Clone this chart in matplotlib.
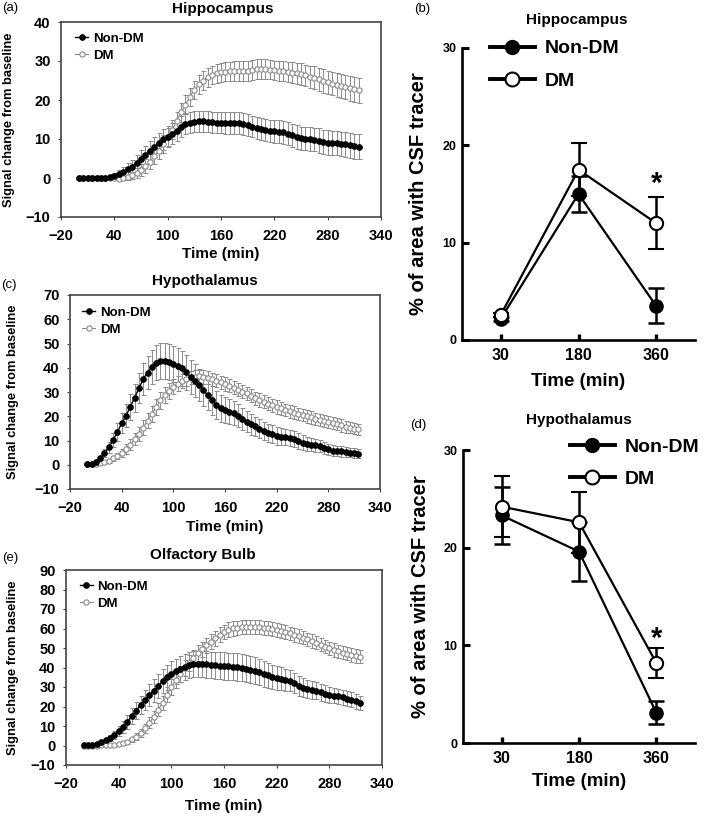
import numpy as np
import matplotlib
matplotlib.use("Agg")
import matplotlib.pyplot as plt
from matplotlib.lines import Line2D

plt.rcParams['font.family'] = ['Liberation Sans', 'DejaVu Sans']
plt.rcParams['font.weight'] = 'bold'
plt.rcParams['axes.labelweight'] = 'bold'

# time course panels (a), (c), (e): one point every 5 min
minutes = np.arange(0, 320, 5)
xticks_time = [-20, 40, 100, 160, 220, 280, 340]

hip_nondm = [0.0, 0.0, 0.0, 0.0, 0.0, 0.0, 0.0,
             0.3, 0.6, 1.0, 1.6, 2.2, 2.9, 3.9, 5.0, 6.0, 7.0,
             8.0, 9.0, 9.9, 10.6, 11.3, 12.1, 13.2, 13.9, 14.2, 14.4,
             14.5, 14.5, 14.4, 14.3, 14.2, 14.2, 14.1, 14.2, 14.2, 14.0,
             13.8, 13.6, 13.2, 12.9, 12.5, 12.3, 12.1, 12.0, 11.9, 11.7,
             11.4, 10.9, 10.5, 10.2, 10.1, 10.0, 9.8, 9.6, 9.3, 9.1,
             9.0, 8.9, 8.8, 8.6, 8.4, 8.2, 8.0]
hip_nondm_err = [0.1, 0.1, 0.1, 0.1, 0.1, 0.1, 0.2,
                 0.4, 0.7, 1.0, 1.3, 1.6, 1.8, 2.0, 2.2, 2.3, 2.4,
                 2.5, 2.6, 2.6, 2.7, 2.7, 2.7, 2.7, 2.7, 2.7, 2.7,
                 2.7, 2.7, 2.7, 2.7, 2.7, 2.7, 2.7, 2.8, 2.8, 2.8,
                 2.8, 2.8, 2.8, 2.8, 2.8, 2.8, 2.9, 2.9, 2.9, 2.9,
                 2.9, 3.0, 3.0, 3.0, 3.0, 3.0, 3.0, 3.1, 3.1, 3.1,
                 3.1, 3.1, 3.1, 3.2, 3.2, 3.2, 3.2]
hip_dm = [0.0, 0.0, 0.0, 0.0, 0.0, 0.0, 0.0,
          0.0, -0.1, -0.2, -0.1, 0.2, 0.7, 1.3, 2.1, 3.0, 4.2,
          5.6, 7.0, 8.6, 10.4, 12.4, 14.6, 16.8, 18.8, 20.8, 22.6,
          24.0, 25.0, 25.8, 26.4, 26.8, 27.1, 27.3, 27.4, 27.4, 27.4,
          27.4, 27.5, 27.7, 27.9, 28.0, 27.9, 27.8, 27.6, 27.5, 27.4,
          27.2, 27.0, 26.8, 26.6, 26.3, 26.0, 25.7, 25.3, 24.9, 24.5,
          24.2, 23.9, 23.6, 23.3, 23.0, 22.8, 22.5]
hip_dm_err = [0.1, 0.1, 0.1, 0.1, 0.1, 0.1, 0.1,
              0.1, 0.2, 0.3, 0.4, 0.6, 0.9, 1.2, 1.5, 1.8, 2.0,
              2.1, 2.2, 2.3, 2.3, 2.4, 2.4, 2.4, 2.4, 2.4, 2.4,
              2.4, 2.4, 2.4, 2.4, 2.4, 2.4, 2.4, 2.4, 2.5, 2.5,
              2.5, 2.5, 2.5, 2.5, 2.5, 2.5, 2.5, 2.5, 2.6, 2.6,
              2.6, 2.7, 2.7, 2.8, 2.8, 2.8, 2.9, 2.9, 3.0, 3.0,
              3.0, 3.1, 3.1, 3.1, 3.2, 3.2, 3.2]

hyp_nondm = [0.3, 0.5, 1.1, 2.8, 4.7, 7.2, 10.1,
             13.5, 17.1, 20.2, 23.8, 27.7, 31.5, 35.3, 38.0, 40.2, 42.1,
             42.8, 42.7, 42.3, 41.7, 40.8, 39.7, 38.1, 36.2, 34.6, 32.8,
             30.7, 28.6, 26.5, 24.5, 23.3, 22.5, 21.9, 21.3, 20.3, 19.0,
             17.8, 16.6, 15.8, 14.9, 13.9, 13.1, 12.5, 11.8, 11.6, 11.4,
             11.1, 10.6, 9.8, 9.1, 8.6, 8.3, 8.1, 7.7, 7.0, 6.3,
             5.8, 5.7, 5.5, 5.3, 5.0, 4.8, 4.6]
hyp_nondm_err = [0.2, 0.3, 0.5, 1.0, 1.6, 2.2, 2.9,
                 3.6, 4.2, 4.8, 5.3, 5.8, 6.2, 6.6, 6.9, 7.1, 7.3,
                 7.4, 7.5, 7.5, 7.4, 7.3, 7.2, 7.1, 7.0, 6.8, 6.6,
                 6.4, 6.2, 6.0, 5.8, 5.6, 5.4, 5.2, 5.0, 4.8, 4.6,
                 4.4, 4.2, 4.0, 3.9, 3.8, 3.7, 3.7, 3.6, 3.5, 3.4,
                 3.3, 3.2, 3.1, 3.0, 2.9, 2.8, 2.7, 2.6, 2.5, 2.4,
                 2.3, 2.2, 2.1, 2.1, 2.0, 2.0, 2.0]
hyp_dm = [0.2, 0.3, 0.4, 0.7, 1.1, 1.7, 2.6,
          3.7, 5.0, 6.5, 8.3, 10.5, 12.8, 15.3, 18.2, 21.0, 23.8,
          26.5, 28.6, 30.5, 32.2, 33.5, 34.6, 35.4, 35.9, 36.3, 36.4,
          36.2, 35.8, 35.3, 34.7, 34.0, 33.3, 32.6, 31.8, 31.0, 30.2,
          29.4, 28.4, 27.5, 26.7, 25.9, 25.2, 24.5, 23.8, 23.2, 22.6,
          22.0, 21.5, 21.0, 20.5, 20.0, 19.5, 19.0, 18.6, 18.1, 17.7,
          17.2, 16.7, 16.2, 15.7, 15.3, 14.9, 14.6]
hyp_dm_err = [0.2, 0.2, 0.3, 0.4, 0.6, 0.8, 1.0,
              1.3, 1.6, 1.9, 2.2, 2.5, 2.8, 3.0, 3.2, 3.3, 3.4,
              3.4, 3.3, 3.2, 3.1, 3.0, 2.9, 2.8, 2.8, 2.7, 2.7,
              2.7, 2.7, 2.7, 2.7, 2.7, 2.7, 2.7, 2.7, 2.7, 2.7,
              2.7, 2.7, 2.7, 2.7, 2.7, 2.7, 2.7, 2.7, 2.7, 2.6,
              2.6, 2.6, 2.6, 2.6, 2.6, 2.6, 2.5, 2.5, 2.5, 2.5,
              2.5, 2.5, 2.5, 2.5, 2.4, 2.4, 2.4]

olf_nondm = [0.2, 0.2, 0.5, 1.0, 1.8, 2.8, 3.9,
             5.4, 7.4, 9.6, 12.2, 15.0, 17.9, 20.8, 23.4, 25.9, 28.2,
             30.5, 32.9, 35.0, 36.8, 38.0, 39.1, 40.3, 41.1, 41.6, 41.8,
             41.8, 41.6, 41.3, 41.1, 40.9, 40.7, 40.6, 40.4, 40.2, 39.9,
             39.4, 38.9, 38.3, 37.6, 36.8, 35.9, 35.1, 34.6, 34.3, 33.8,
             33.2, 32.2, 30.6, 29.6, 29.1, 28.6, 28.0, 27.3, 26.6, 26.0,
             25.6, 25.2, 24.7, 24.1, 23.4, 22.6, 21.9]
olf_nondm_err = [0.2, 0.2, 0.3, 0.5, 0.8, 1.1, 1.5,
                 2.0, 2.5, 3.0, 3.5, 4.0, 4.4, 4.8, 5.2, 5.5, 5.8,
                 6.0, 6.2, 6.4, 6.5, 6.6, 6.7, 6.7, 6.7, 6.7, 6.7,
                 6.8, 6.8, 6.9, 6.9, 7.0, 7.0, 7.0, 7.0, 7.0, 7.0,
                 7.0, 7.0, 6.9, 6.8, 6.6, 6.4, 6.2, 6.0, 5.8, 5.6,
                 5.4, 5.2, 5.0, 4.8, 4.7, 4.6, 4.4, 4.3, 4.2, 4.1,
                 4.0, 4.0, 3.9, 3.9, 3.8, 3.8, 3.7]
olf_dm = [0.0, 0.0, 0.0, 0.0, 0.1, 0.2, 0.3,
          0.5, 0.8, 1.3, 2.0, 3.2, 4.6, 6.5, 8.8, 11.6, 14.8,
          18.3, 22.0, 26.0, 30.0, 33.6, 36.8, 39.6, 42.4, 45.0, 47.3,
          49.3, 51.3, 53.2, 55.0, 56.8, 58.3, 59.4, 60.1, 60.5, 60.8,
          61.0, 61.0, 60.9, 60.7, 60.4, 60.1, 59.7, 59.2, 58.7, 58.1,
          57.5, 56.8, 56.1, 55.3, 54.5, 53.6, 52.7, 51.7, 50.7, 49.8,
          49.0, 48.3, 47.6, 47.0, 46.4, 45.9, 45.5]
olf_dm_err = [0.2, 0.2, 0.2, 0.2, 0.3, 0.3, 0.4,
              0.5, 0.6, 0.8, 1.0, 1.3, 1.6, 2.0, 2.4, 2.8, 3.1,
              3.4, 3.6, 3.8, 4.0, 4.1, 4.2, 4.2, 4.2, 4.1, 4.0,
              4.0, 3.9, 3.9, 3.8, 3.8, 3.7, 3.7, 3.7, 3.6, 3.6,
              3.6, 3.6, 3.6, 3.6, 3.5, 3.5, 3.5, 3.5, 3.5, 3.5,
              3.5, 3.5, 3.5, 3.4, 3.4, 3.4, 3.4, 3.4, 3.4, 3.4,
              3.4, 3.4, 3.4, 3.4, 3.4, 3.4, 3.4]

# tracer area panels (b), (d)
sample_times = ['30', '180', '360']
area_hip_nondm = [2.2, 15.0, 3.5]
area_hip_nondm_err = [0.2, 1.8, 1.8]
area_hip_dm = [2.6, 17.5, 12.0]
area_hip_dm_err = [0.2, 2.7, 2.7]
area_hyp_nondm = [23.3, 19.6, 3.1]
area_hyp_nondm_err = [2.95, 3.0, 1.15]
area_hyp_dm = [24.2, 22.6, 8.2]
area_hyp_dm_err = [3.1, 3.1, 1.55]

GREY = '#8a8a8a'
W, H = 705, 818


def px_axes(fig, left, top, right, bottom):
    return fig.add_axes([left / W, 1 - bottom / H, (right - left) / W, (bottom - top) / H])


def time_panel(ax, nondm, nondm_err, dm, dm_err, ylim, leg_anchor, ylab_x, xlab_y):
    ax.errorbar(minutes, dm, yerr=dm_err, fmt='none', ecolor=GREY,
                elinewidth=0.7, capsize=1.8, capthick=0.7, zorder=1)
    ax.errorbar(minutes, nondm, yerr=nondm_err, fmt='none', ecolor=GREY,
                elinewidth=0.7, capsize=1.8, capthick=0.7, zorder=1)
    ax.plot(minutes, dm, '-o', color=GREY, lw=0.8, ms=3.8, mfc='white',
            mec=GREY, mew=0.8, label='DM', zorder=2)
    ax.plot(minutes, nondm, '-o', color='black', lw=1.0, ms=3.8,
            label='Non-DM', zorder=3)
    ax.set_xlim(-20, 340)
    ax.set_xticks(xticks_time)
    ax.set_ylim(*ylim)
    ax.set_yticks(np.arange(ylim[0], ylim[1] + 1, 10))
    for s in ax.spines.values():
        s.set_color('#444444')
        s.set_linewidth(1.2)
    ax.tick_params(direction='out', length=2.5, width=0.8, color='#444444',
                   labelsize=10.5, pad=5)
    ax.tick_params(axis='x', pad=6)
    ax.set_ylabel('Signal change from baseline', fontsize=9.3)
    ax.yaxis.set_label_coords(ylab_x, 0.5)
    ax.set_xlabel('Time (min)', fontsize=11)
    ax.xaxis.set_label_coords(0.5, xlab_y)
    handles, labels = ax.get_legend_handles_labels()
    ax.legend(handles[::-1], labels[::-1], loc='upper left', bbox_to_anchor=leg_anchor,
              frameon=False, borderpad=0, borderaxespad=0, handlelength=1.0,
              handletextpad=0.35, labelspacing=0.35, fontsize=9.5)


def area_panel(ax, nondm, nondm_err, dm, dm_err, star_y, leg_anchor, ylab_x, xlab_y):
    x = np.arange(len(sample_times))
    ax.errorbar(x, nondm, yerr=nondm_err, fmt='-o', color='black', lw=1.6,
                ms=9.5, mfc='black', mec='black', elinewidth=1.8, capsize=6,
                capthick=1.8, zorder=2)
    ax.errorbar(x, dm, yerr=dm_err, fmt='-o', color='black', lw=1.6,
                ms=9.5, mfc='white', mec='black', mew=1.5, elinewidth=1.8,
                capsize=6, capthick=1.8, zorder=3)
    ax.annotate('*', xy=(2, star_y), xytext=(0, -0.58 * 21), textcoords='offset points',
                ha='center', va='baseline', fontsize=21)
    ax.set_xlim(-0.5, 2.5)
    ax.set_ylim(0, 30)
    ax.set_xticks(x)
    ax.set_xticklabels(sample_times)
    ax.set_yticks([0, 10, 20, 30])
    ax.spines['top'].set_visible(False)
    ax.spines['right'].set_visible(False)
    for s in ('left', 'bottom'):
        ax.spines[s].set_linewidth(1.9)
    ax.tick_params(axis='y', direction='in', length=5, width=2.2, labelsize=9, pad=4)
    ax.tick_params(axis='x', direction='in', length=4, width=2.4, labelsize=11.5, pad=6)
    ax.set_ylabel('% of area with CSF tracer', fontsize=14.5)
    ax.yaxis.set_label_coords(ylab_x, 0.5)
    ax.set_xlabel('Time (min)', fontsize=13.5)
    ax.xaxis.set_label_coords(0.5, xlab_y)
    handles = [Line2D([], [], color='black', lw=2.8, marker='o', ms=10, mfc='black'),
               Line2D([], [], color='black', lw=2.8, marker='o', ms=10, mfc='white', mew=1.5)]
    ax.legend(handles, ['Non-DM', 'DM'], loc='upper left', bbox_to_anchor=leg_anchor,
              frameon=False, borderpad=0, borderaxespad=0, handlelength=2.3,
              handletextpad=0.5, labelspacing=0.75, fontsize=14)


fig = plt.figure(figsize=(W / 100, H / 100), dpi=100)

ax_a = px_axes(fig, 61, 22, 381, 217)
time_panel(ax_a, hip_nondm, hip_nondm_err, hip_dm, hip_dm_err, (-10, 40),
           (0.044, 0.945), -0.144, -0.156)
ax_c = px_axes(fig, 70, 295, 380, 489)
time_panel(ax_c, hyp_nondm, hyp_nondm_err, hyp_dm, hyp_dm_err, (-10, 70),
           (0.039, 0.94), -0.165, -0.16)
ax_e = px_axes(fig, 66, 570, 382, 765)
time_panel(ax_e, olf_nondm, olf_nondm_err, olf_dm, olf_dm_err, (-10, 90),
           (0.043, 0.945), -0.15, -0.174)

ax_b = px_axes(fig, 462, 48, 695, 340)
area_panel(ax_b, area_hip_nondm, area_hip_nondm_err, area_hip_dm, area_hip_dm_err,
           17.0, (0.12, 1.028), -0.146, -0.112)
ax_d = px_axes(fig, 463, 450, 695, 743)
area_panel(ax_d, area_hyp_nondm, area_hyp_nondm_err, area_hyp_dm, area_hyp_dm_err,
           11.6, (0.461, 1.04), -0.142, -0.1025)

# panel titles and letters, placed in pixel positions of the original
titles = [('Hippocampus', 223, 9), ('Hypothalamus', 205, 281), ('Olfactory Bulb', 203, 555),
          ('Hippocampus', 577, 20), ('Hypothalamus', 579, 420)]
for text, tx, ty in titles:
    fig.text(tx / W, 1 - ty / H, text, ha='center', va='center', fontsize=11)
letters = [('(a)', 10, 8), ('(c)', 9, 285), ('(e)', 10.5, 558), ('(b)', 422, 9), ('(d)', 418, 425)]
for text, tx, ty in letters:
    fig.text(tx / W, 1 - ty / H, text, ha='center', va='center', fontsize=9.5,
             fontweight='normal')

fig.savefig('out.png', dpi=100)
